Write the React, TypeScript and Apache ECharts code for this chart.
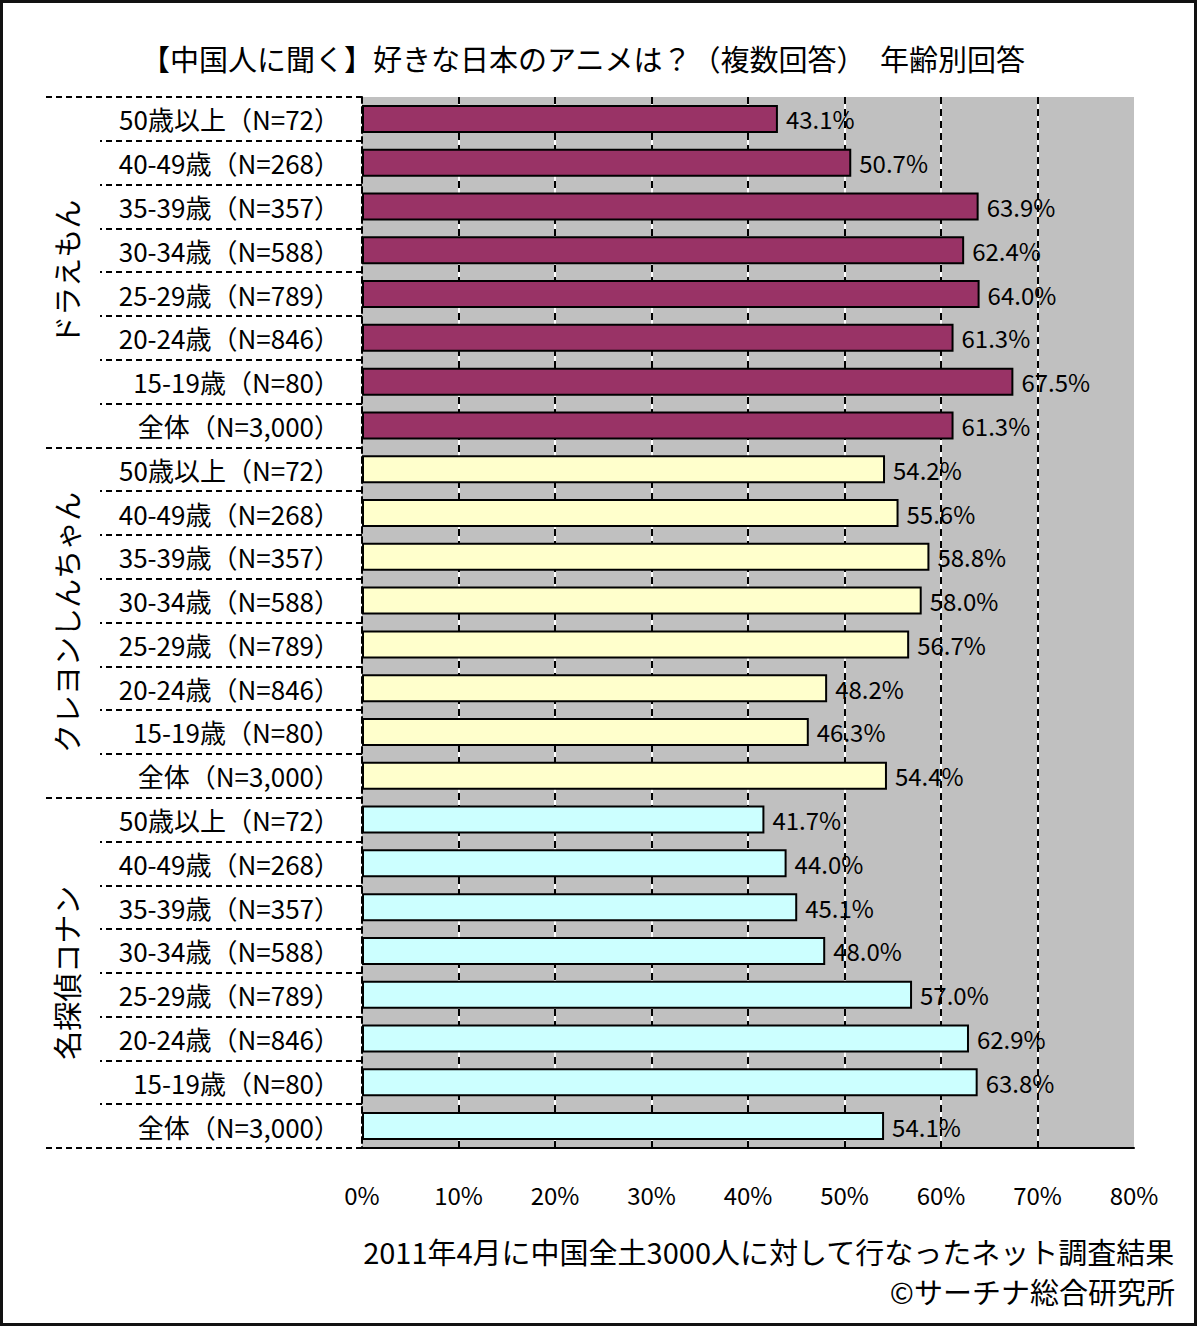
import { useEffect, useRef } from 'react';
import * as echarts from 'echarts';

const ageLabels = [
  '50歳以上（N=72）',
  '40-49歳（N=268）',
  '35-39歳（N=357）',
  '30-34歳（N=588）',
  '25-29歳（N=789）',
  '20-24歳（N=846）',
  '15-19歳（N=80）',
  '全体（N=3,000）',
];

const groupNames = ['ドラえもん', 'クレヨンしんちゃん', '名探偵コナン'];
const groupColors = ['#993366', '#FFFFCC', '#CCFFFF'];

const doraemon = [43.1, 50.7, 63.9, 62.4, 64.0, 61.3, 67.5, 61.3];
const shinchan = [54.2, 55.6, 58.8, 58.0, 56.7, 48.2, 46.3, 54.4];
const conan = [41.7, 44.0, 45.1, 48.0, 57.0, 62.9, 63.8, 54.1];

const FONT = '"Noto Sans CJK JP", "Noto Sans", sans-serif';

export default function App() {
  const chartRef = useRef<HTMLDivElement>(null);

  useEffect(() => {
    document.body.style.margin = '0';
    if (!chartRef.current) return;
    const chart = echarts.init(chartRef.current, undefined, { renderer: 'svg' });

    const groups = [doraemon, shinchan, conan];
    const categories = groups.flatMap(() => ageLabels);
    const barData = groups.flatMap((vals, g) =>
      vals.map((v) => ({ value: v, itemStyle: { color: groupColors[g] } }))
    );

    const option = {
      animation: false,
      backgroundColor: '#ffffff',
      textStyle: { fontFamily: FONT },
      title: [
        {
          text: '【中国人に聞く】好きな日本のアニメは？（複数回答）　年齢別回答',
          left: 578,
          textAlign: 'center',
          top: 38,
          textStyle: { fontSize: 29, fontWeight: 'normal', color: '#000', fontFamily: FONT },
        },
        {
          text: '2011年4月に中国全土3000人に対して行なったネット調査結果',
          right: 20,
          top: 1231,
          textStyle: { fontSize: 29, fontWeight: 'normal', color: '#000', fontFamily: FONT },
        },
        {
          text: '©サーチナ総合研究所',
          right: 20,
          top: 1271,
          textStyle: { fontSize: 29, fontWeight: 'normal', color: '#000', fontFamily: FONT },
        },
      ],
      graphic: [
        {
          type: 'rect',
          shape: { x: 1.5, y: 1.5, width: 1194, height: 1323 },
          style: { fill: 'none', stroke: '#111', lineWidth: 3 },
        },
      ],
      grid: {
        left: 362,
        right: 66,
        top: 97,
        bottom: 180,
        show: true,
        backgroundColor: '#c0c0c0',
        borderWidth: 0,
      },
      xAxis: [
        {
          type: 'value',
          position: 'bottom',
          min: 0,
          max: 80,
          interval: 10,
          axisLine: { show: false },
          axisTick: { show: false },
          axisLabel: { show: false },
          splitLine: {
            show: true,
            showMinLine: false,
            showMaxLine: false,
            lineStyle: { color: '#ffffff', width: 2, type: 'solid' },
          },
        },
        {
          type: 'value',
          position: 'bottom',
          min: 0,
          max: 80,
          interval: 10,
          axisLine: { show: true, onZero: false, lineStyle: { color: '#000', width: 2 } },
          axisTick: { show: false },
          axisLabel: {
            margin: 34,
            fontSize: 24,
            color: '#000',
            fontFamily: FONT,
            formatter: (v: number) => `${v}%`,
          },
          splitLine: {
            show: true,
            showMinLine: false,
            showMaxLine: false,
            lineStyle: { color: '#000', width: 2, type: [7, 5] },
          },
        },
      ],
      yAxis: [
        {
          type: 'category',
          data: categories,
          inverse: true,
          position: 'left',
          axisLine: { show: true, onZero: false, lineStyle: { color: '#000', width: 2, type: [6, 4] } },
          axisTick: {
            show: true,
            interval: 0,
            length: 262,
            lineStyle: { color: '#000', width: 2, type: [6, 4] },
          },
          axisLabel: {
            interval: 0,
            margin: 22,
            fontSize: 26,
            color: '#000',
            fontFamily: FONT,
          },
          splitLine: { show: false },
        },
        {
          type: 'category',
          data: groupNames,
          inverse: true,
          position: 'left',
          axisLine: { show: false },
          axisTick: {
            show: true,
            interval: 0,
            length: 320,
            lineStyle: { color: '#000', width: 2, type: [6, 4] },
          },
          axisLabel: {
            interval: 0,
            rotate: 90,
            margin: 282,
            fontSize: 29,
            color: '#000',
            fontFamily: FONT,
          },
          splitLine: { show: false },
        },
      ],
      series: [
        {
          type: 'bar',
          xAxisIndex: 1,
          yAxisIndex: 0,
          barWidth: 28,
          data: barData,
          itemStyle: { borderColor: '#000', borderWidth: 2 },
          label: {
            show: true,
            position: 'right',
            distance: 8,
            fontSize: 24,
            color: '#000',
            fontFamily: FONT,
            formatter: (p: any) => `${Number(p.value).toFixed(1)}%`,
          },
        },
      ],
    };

    chart.setOption(option);

    return () => {
      chart.dispose();
    };
  }, []);

  return <div ref={chartRef} style={{ width: '1200px', height: '1328px' }} />;
}
